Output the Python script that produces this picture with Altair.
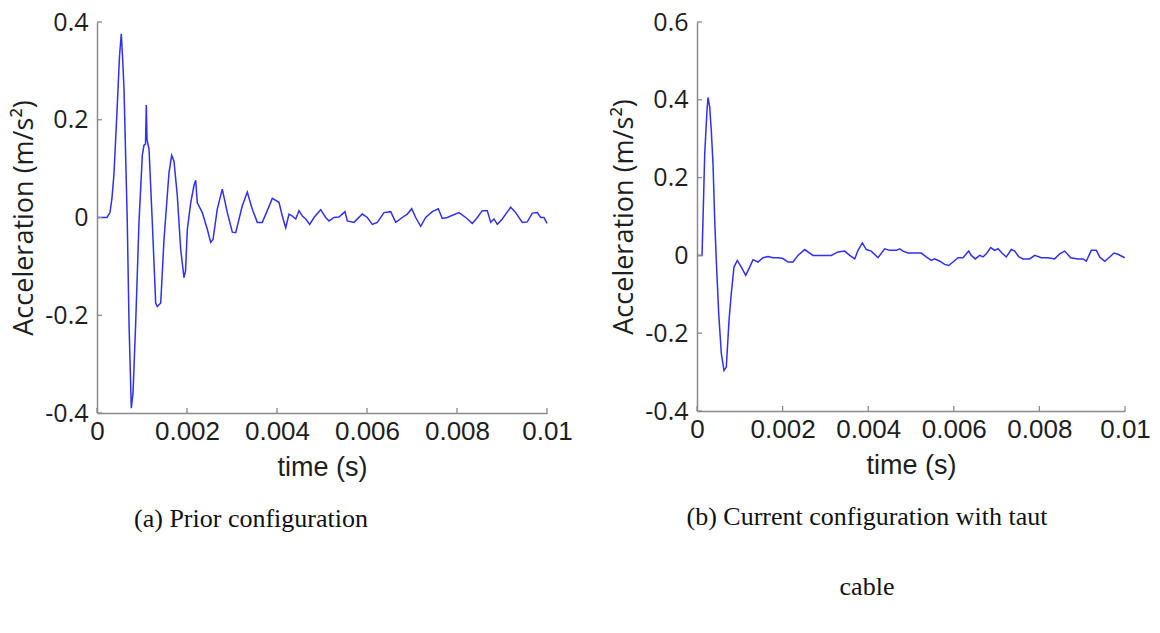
import altair as alt
import pandas as pd

# Panel (a): prior configuration, acceleration response (time in s, m/s^2)
time_a = [0, 0.000222, 0.000289, 0.000333, 0.000378, 0.000451, 0.0005, 0.00054,
          0.000567, 0.0006, 0.000673, 0.000711, 0.000762, 0.0008, 0.00086, 0.000933,
          0.001007, 0.001044, 0.001078, 0.001096, 0.001111, 0.001156, 0.001229,
          0.001304, 0.00134, 0.001416, 0.001489, 0.0016, 0.00166, 0.001711, 0.001784,
          0.00186, 0.001933, 0.001967, 0.002007, 0.002082, 0.002156, 0.002193,
          0.002229, 0.00234, 0.002451, 0.002527, 0.002578, 0.002673, 0.002784,
          0.002896, 0.003007, 0.003082, 0.003229, 0.00334, 0.003451, 0.003562,
          0.003673, 0.003784, 0.003896, 0.004044, 0.004118, 0.004193, 0.004267,
          0.00434, 0.004416, 0.004489, 0.004562, 0.004638, 0.004727, 0.004822,
          0.004971, 0.005082, 0.005156, 0.005267, 0.005378, 0.005451, 0.005511,
          0.005562, 0.005711, 0.005896, 0.006007, 0.006118, 0.006229, 0.006378,
          0.006527, 0.006638, 0.006784, 0.006896, 0.006993, 0.007082, 0.007193,
          0.007304, 0.007451, 0.007584, 0.007673, 0.007784, 0.00786, 0.008044,
          0.008193, 0.00834, 0.008451, 0.008562, 0.008673, 0.008749, 0.008822,
          0.008896, 0.009007, 0.009082, 0.009193, 0.009304, 0.009451, 0.009562,
          0.009673, 0.009784, 0.00986, 0.009933, 0.01]
accel_a = [0, 0, 0.01, 0.04, 0.09, 0.23, 0.33, 0.376,
           0.33, 0.263, -0.01, -0.215, -0.39, -0.36, -0.215, -0.01,
           0.127, 0.148, 0.15, 0.23, 0.16, 0.14, -0.01,
           -0.175, -0.182, -0.175, -0.045, 0.092, 0.127, 0.115, 0.045,
           -0.065, -0.123, -0.11, -0.025, 0.03, 0.066, 0.076,
           0.03, 0.01, -0.024, -0.051, -0.045, 0.017, 0.058,
           0.01, -0.03, -0.031, 0.024, 0.052, 0.017, -0.01,
           -0.01, 0.014, 0.039, 0.031, 0.003, -0.021, 0.007,
           0.003, -0.003, 0.014, 0.003, -0.003, -0.014, 0.0,
           0.016, 0.0, -0.007, 0.0, 0.001, 0.007, 0.012,
           -0.007, -0.01, 0.007, 0.0, -0.014, -0.01, 0.01,
           0.012, -0.01, 0.0, 0.007, 0.018, 0.0, -0.018,
           0.0, 0.012, 0.018, -0.002, 0.0, 0.003, 0.01,
           0.0, -0.012, 0.0, 0.014, 0.014, -0.01, -0.003,
           -0.014, -0.003, 0.007, 0.021, 0.01, -0.01, -0.009,
           0.009, 0.01, 0.0, 0.0, -0.012]

# Panel (b): current configuration with taut cable
time_b = [0, 0.000117, 0.00014, 0.00018, 0.000234, 0.000257, 0.000297, 0.000334,
          0.000374, 0.000414, 0.000451, 0.000507, 0.000568, 0.000631, 0.000685,
          0.000748, 0.000801, 0.000864, 0.000942, 0.001035, 0.001138, 0.001231,
          0.001308, 0.001425, 0.001542, 0.001659, 0.001776, 0.001893, 0.002009,
          0.002126, 0.002243, 0.00236, 0.002516, 0.002633, 0.00271, 0.002904,
          0.003138, 0.003294, 0.003451, 0.003568, 0.003685, 0.003762, 0.003862,
          0.003956, 0.004072, 0.004229, 0.004386, 0.004502, 0.004657, 0.004736,
          0.004813, 0.00493, 0.005241, 0.005357, 0.005474, 0.005554, 0.005671,
          0.005787, 0.005881, 0.005981, 0.006098, 0.006215, 0.006348, 0.006409,
          0.006502, 0.006605, 0.006682, 0.00676, 0.006862, 0.006956, 0.007033,
          0.007126, 0.007227, 0.007343, 0.007423, 0.007516, 0.007617, 0.007773,
          0.00789, 0.008044, 0.008201, 0.008357, 0.008474, 0.008591, 0.008731,
          0.008902, 0.009019, 0.009096, 0.009213, 0.00933, 0.009409, 0.009526,
          0.009643, 0.009743, 0.009836, 0.009993]
accel_b = [0, 0, 0.09, 0.261, 0.373, 0.406, 0.381, 0.321,
           0.236, 0.09, -0.013, -0.149, -0.252, -0.296, -0.287,
           -0.167, -0.098, -0.03, -0.013, -0.03, -0.051, -0.03,
           -0.011, -0.017, -0.006, -0.003, -0.006, -0.006, -0.008,
           -0.017, -0.017, 0.0, 0.015, 0.006, 0.0, 0.0,
           0.0, 0.009, 0.011, 0.0, -0.009, 0.013, 0.032,
           0.015, 0.011, -0.006, 0.017, 0.013, 0.013, 0.017,
           0.011, 0.006, 0.006, -0.004, -0.013, -0.009, -0.015,
           -0.023, -0.026, -0.017, -0.006, -0.006, 0.011, 0.0,
           -0.009, 0.0, -0.004, 0.004, 0.02, 0.013, 0.017,
           0.006, -0.004, 0.015, 0.011, -0.003, -0.009, -0.009,
           0.0, -0.006, -0.006, -0.009, 0.004, 0.011, -0.006,
           -0.009, -0.009, -0.015, 0.013, 0.013, -0.004, -0.015,
           -0.004, 0.006, 0.003, -0.006]

x_ticks = [0, 0.002, 0.004, 0.006, 0.008, 0.01]
y_ticks_a = [-0.4, -0.2, 0, 0.2, 0.4]
y_ticks_b = [-0.4, -0.2, 0, 0.2, 0.4, 0.6]

caption_a = "(a) Prior configuration"
caption_b = ["(b) Current configuration with taut", "cable"]

LINE_COLOR = "#3030ee"
AXIS_COLOR = "#8a8a8a"
TEXT_COLOR = "#1e1e1e"


def panel(times, accel, y_dom, y_ticks, width, height, caption, dx):
    df = pd.DataFrame({"t": times, "a": accel})
    x_scale = alt.Scale(domain=[0, 0.01], nice=False, zero=False)
    y_scale = alt.Scale(domain=y_dom, nice=False, zero=False)

    x_axis = alt.Axis(
        values=x_ticks, labelExpr="'' + datum.value", title="time (s)",
        grid=False, ticks=False, domainColor=AXIS_COLOR, domainWidth=1.5,
        labelFont="Liberation Sans", labelFontSize=26, labelColor=TEXT_COLOR,
        labelPadding=5, labelFlush=False,
        titleFont="Liberation Sans", titleFontSize=27, titleFontWeight="normal",
        titleColor=TEXT_COLOR, titlePadding=10,
    )
    y_axis = alt.Axis(
        values=y_ticks, labelExpr="'' + datum.value",
        title="Acceleration (m/s²)", grid=False, ticks=False,
        domainColor=AXIS_COLOR, domainWidth=1.5,
        labelFont="Open Sans", labelFontSize=25, labelColor=TEXT_COLOR,
        labelPadding=9, labelFlush=False,
        titleFont="Open Sans", titleFontSize=27, titleFontWeight="normal",
        titleColor=TEXT_COLOR, titlePadding=6,
    )

    line = alt.Chart(df).mark_line(color=LINE_COLOR, strokeWidth=1.5).encode(
        x=alt.X("t:Q", scale=x_scale, axis=x_axis),
        y=alt.Y("a:Q", scale=y_scale, axis=y_axis),
    )

    # short inward tick marks along both axes
    span_y = y_dom[1] - y_dom[0]
    xt = pd.DataFrame({"t": x_ticks, "y0": [y_dom[0]] * len(x_ticks),
                       "y1": [y_dom[0] + span_y * 5 / height] * len(x_ticks)})
    yt = pd.DataFrame({"a": y_ticks, "x0": [0.0] * len(y_ticks),
                       "x1": [0.01 * 5 / width] * len(y_ticks)})
    x_tick_marks = alt.Chart(xt).mark_rule(color=AXIS_COLOR, strokeWidth=1.3).encode(
        x=alt.X("t:Q", scale=x_scale), y=alt.Y("y0:Q", scale=y_scale), y2="y1:Q")
    y_tick_marks = alt.Chart(yt).mark_rule(color=AXIS_COLOR, strokeWidth=1.3).encode(
        y=alt.Y("a:Q", scale=y_scale), x=alt.X("x0:Q", scale=x_scale), x2="x1:Q")

    return alt.layer(line, x_tick_marks, y_tick_marks).properties(
        width=width, height=height,
        title=alt.TitleParams(
            text=caption, orient="bottom", anchor="middle", dx=dx, offset=26,
            font="Liberation Serif", fontSize=26, fontWeight="normal",
            color="#111111", lineHeight=70, baseline="top",
        ),
    )


left = panel(time_a, accel_a, [-0.4, 0.4], y_ticks_a, 450, 391, caption_a, -71)
right = panel(time_b, accel_b, [-0.4, 0.6], y_ticks_b, 428, 389, caption_b, -44)

chart = alt.hconcat(left, right, spacing=37).properties(
    padding={"left": 10, "top": 10, "right": 5, "bottom": 5},
    background="white",
).configure_view(stroke=None)

chart.save("out.html", embed_options={"renderer": "svg", "actions": False})
